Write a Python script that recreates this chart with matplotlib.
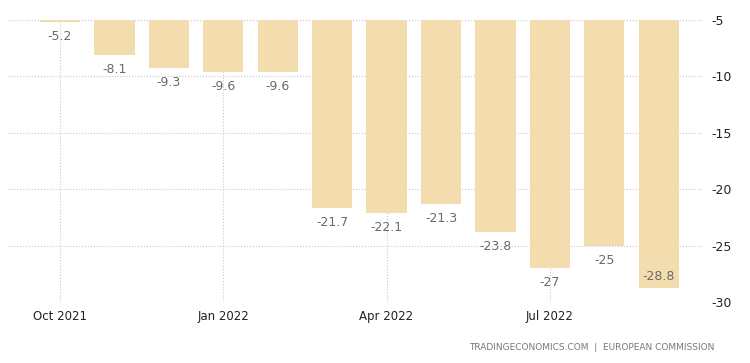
import numpy as np
import matplotlib.pyplot as plt

plt.rcParams['axes.unicode_minus'] = False

months = ['Oct 2021', 'Nov 2021', 'Dec 2021', 'Jan 2022', 'Feb 2022', 'Mar 2022',
          'Apr 2022', 'May 2022', 'Jun 2022', 'Jul 2022', 'Aug 2022', 'Sep 2022']
values = [-5.2, -8.1, -9.3, -9.6, -9.6, -21.7, -22.1, -21.3, -23.8, -27, -25, -28.8]
tick_idx = [0, 3, 6, 9]
yticks = [-5, -10, -15, -20, -25, -30]
base = -5

fig = plt.figure(figsize=(7.5, 3.63), dpi=100)
ax = fig.add_axes([0.0107, 0.168, 0.927, 0.777])

x = np.arange(len(values))
heights = [v - base for v in values]
ax.bar(x, heights, bottom=base, width=0.74, color='#f3dcae', zorder=2)

for xi, v in zip(x, values):
    label = '{:g}'.format(v)
    if v < -28:
        ax.text(xi, v + 0.5, label, ha='center', va='bottom', fontsize=9, color='#6a6a6a', zorder=3)
    else:
        ax.text(xi, v - 0.7, label, ha='center', va='top', fontsize=9, color='#6a6a6a', zorder=3)

ax.set_xlim(-0.956, 11.82)
ax.set_ylim(-30, -5)
ax.set_xticks(tick_idx)
ax.set_xticklabels([months[i] for i in tick_idx])
ax.set_yticks(yticks)
ax.yaxis.tick_right()
ax.tick_params(axis='both', length=0, labelsize=8.5, colors='#222222')
ax.tick_params(axis='y', labelsize=9)
ax.tick_params(axis='x', pad=6)
ax.tick_params(axis='y', pad=6)
ax.grid(True, linestyle=':', color='#c8c8c8', linewidth=0.8, zorder=0)
for s in ax.spines.values():
    s.set_visible(False)

fig.text(0.953, 0.043, 'TRADINGECONOMICS.COM  |  EUROPEAN COMMISSION', ha='right',
         va='center', fontsize=6.5, color='#777777')

fig.savefig('out.png', dpi=100)
